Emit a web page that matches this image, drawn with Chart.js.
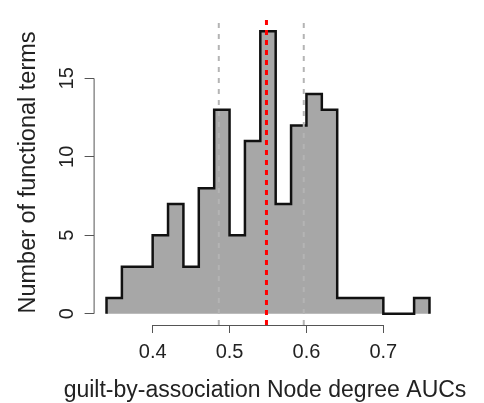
<!DOCTYPE html>
<html>
<head>
<meta charset="utf-8">
<script src="https://cdn.jsdelivr.net/npm/chart.js@4.4.1/dist/chart.umd.min.js"></script>
<style>
  html, body { margin: 0; padding: 0; background: #fff; }
  #wrap { width: 484px; height: 403px; }
</style>
</head>
<body>
<div id="wrap"><canvas id="hist"></canvas></div>
<script>
// histogram of AUCs, bins of width 0.02
var binEdges = [0.34, 0.36, 0.38, 0.40, 0.42, 0.44, 0.46, 0.48, 0.50, 0.52, 0.54,
                0.56, 0.58, 0.60, 0.62, 0.64, 0.66, 0.68, 0.70, 0.72, 0.74, 0.76];
var counts = [1, 3, 3, 5, 7, 3, 8, 13, 5, 11, 18, 7, 12, 14, 13, 1, 1, 1, 0, 0, 1];

// reference lines
var grayLines = [0.486, 0.5965];
var redLine = [0.548];

var xTicks = [0.4, 0.5, 0.6, 0.7];
var yTicks = [0, 5, 10, 15];
var xRange = [0.3232, 0.7768];
var yRange = [-0.72, 18.72];

var xTitle = 'guilt-by-association Node degree AUCs';
var yTitle = 'Number of functional terms';

var font = 'Liberation Sans, Arial, Helvetica, sans-serif';

// step outline: start and end on the baseline
var steps = [{x: binEdges[0], y: 0}];
for (var i = 0; i < counts.length; i++) {
    steps.push({x: binEdges[i], y: counts[i]});
}
steps.push({x: binEdges[binEdges.length - 1], y: counts[counts.length - 1]});
steps.push({x: binEdges[binEdges.length - 1], y: 0});

function vline(v) {
    return [{x: v, y: yRange[0]}, {x: v, y: yRange[1]}];
}

var datasets = [{
    data: steps,
    stepped: 'before',
    fill: 'origin',
    backgroundColor: '#a7a7a7',
    borderColor: '#111',
    borderWidth: 2.5,
    borderJoinStyle: 'miter',
    pointRadius: 0,
    order: 3
}];
grayLines.forEach(function (v) {
    datasets.push({
        data: vline(v),
        borderColor: '#b4b4b4',
        borderWidth: 2,
        borderDash: [5, 6],
        pointRadius: 0,
        fill: false,
        order: 2
    });
});
redLine.forEach(function (v) {
    datasets.push({
        data: vline(v),
        borderColor: '#ff0000',
        borderWidth: 3,
        borderDash: [5, 5],
        pointRadius: 0,
        fill: false,
        order: 1
    });
});

// R style axis lines (first to last tick) and the x title, which is
// wider than the plot area so chart.js would squeeze it
var axisLines = {
    id: 'axisLines',
    afterDraw: function (chart) {
        var ctx = chart.ctx, a = chart.chartArea;
        var sx = chart.scales.x, sy = chart.scales.y;
        ctx.save();
        ctx.strokeStyle = '#555';
        ctx.lineWidth = 1;
        ctx.beginPath();
        ctx.moveTo(sx.getPixelForValue(xTicks[0]), a.bottom + 0.5);
        ctx.lineTo(sx.getPixelForValue(xTicks[xTicks.length - 1]), a.bottom + 0.5);
        ctx.moveTo(a.left + 0.5, sy.getPixelForValue(yTicks[0]));
        ctx.lineTo(a.left + 0.5, sy.getPixelForValue(yTicks[yTicks.length - 1]));
        ctx.stroke();

        ctx.fillStyle = '#222';
        ctx.font = '23px ' + font;
        ctx.textAlign = 'center';
        ctx.textBaseline = 'alphabetic';
        ctx.fillText(xTitle, (a.left + a.right) / 2 - 3, 397);
        ctx.restore();
    }
};

var ctx = document.getElementById("hist").getContext('2d');
var chart = new Chart(ctx, {
    type: 'line',
    data: { datasets: datasets },
    plugins: [axisLines],
    options: {
        responsive: true,
        maintainAspectRatio: false,
        animation: false,
        layout: { padding: { top: 20, right: 41.6, left: 0, bottom: 0 } },
        plugins: { legend: { display: false }, tooltip: { enabled: false } },
        scales: {
            x: {
                type: 'linear',
                min: xRange[0],
                max: xRange[1],
                afterBuildTicks: function (s) {
                    s.ticks = xTicks.map(function (v) { return {value: v}; });
                },
                afterFit: function (s) { s.height = 78; },
                ticks: {
                    autoSkip: false,
                    maxRotation: 0,
                    padding: 7,
                    color: '#222',
                    font: { family: font, size: 20 },
                    callback: function (v) { return v.toFixed(1); }
                },
                grid: { drawOnChartArea: false, drawTicks: true, tickLength: 8, color: '#555' },
                border: { display: false },
                title: { display: false }
            },
            y: {
                type: 'linear',
                min: yRange[0],
                max: yRange[1],
                afterBuildTicks: function (s) {
                    s.ticks = yTicks.map(function (v) { return {value: v}; });
                },
                afterFit: function (s) { s.width = 93.6; },
                ticks: {
                    autoSkip: false,
                    minRotation: 90,
                    maxRotation: 90,
                    crossAlign: 'center',
                    padding: 6,
                    color: '#222',
                    font: { family: font, size: 20 }
                },
                grid: { drawOnChartArea: false, drawTicks: true, tickLength: 9, color: '#555' },
                border: { display: false },
                title: {
                    display: true,
                    text: yTitle,
                    color: '#222',
                    font: { family: font, size: 23.5 },
                    padding: { top: 14, bottom: 0 }
                }
            }
        }
    }
});
</script>
</body>
</html>
